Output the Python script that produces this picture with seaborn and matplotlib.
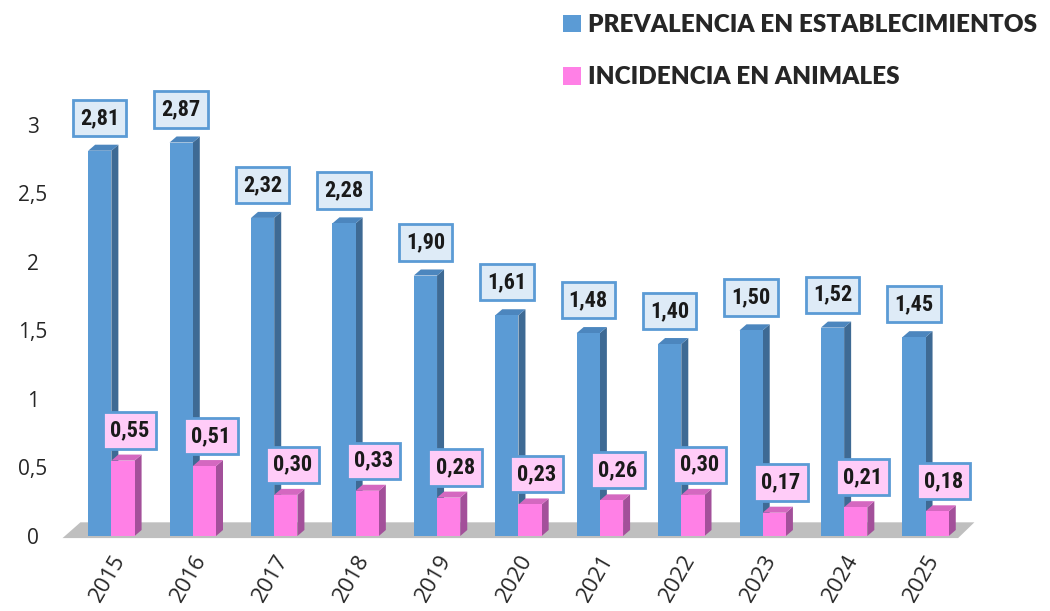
import matplotlib
matplotlib.use("Agg")
import matplotlib.pyplot as plt
import seaborn as sns
import pandas as pd
from matplotlib.patches import Polygon
from matplotlib import font_manager as fm

years = ["2015", "2016", "2017", "2018", "2019", "2020", "2021", "2022", "2023", "2024", "2025"]
prevalencia = [2.81, 2.87, 2.32, 2.28, 1.90, 1.61, 1.48, 1.40, 1.50, 1.52, 1.45]
incidencia = [0.55, 0.51, 0.30, 0.33, 0.28, 0.23, 0.26, 0.30, 0.17, 0.21, 0.18]
series_names = ["PREVALENCIA EN ESTABLECIMIENTOS", "INCIDENCIA EN ANIMALES"]
yticks = [0, 0.5, 1, 1.5, 2, 2.5, 3]

front = {series_names[0]: "#5B9BD5", series_names[1]: "#FF80E6"}
side = {series_names[0]: "#3E6A94", series_names[1]: "#A3509A"}
topc = {series_names[0]: "#4C86BE", series_names[1]: "#D468C0"}
boxfc = {series_names[0]: "#DEEBF7", series_names[1]: "#FFCCF8"}

df = pd.DataFrame({
    "year": years * 2,
    "value": prevalencia + incidencia,
    "serie": [series_names[0]] * len(years) + [series_names[1]] * len(years),
})

names = sorted({f.name for f in fm.fontManager.ttflist})
narrow = None
for cand in ["Liberation Sans Narrow", "DejaVu Sans Condensed", "Roboto Condensed", "Open Sans Condensed"]:
    if cand in names:
        narrow = cand
        break

sns.set_style("white")
fig = plt.figure(figsize=(10.5, 6.11), dpi=100)
ax = fig.add_axes([0.058, 0.1227, 0.87, 0.763])

sns.barplot(data=df, x="year", y="value", hue="serie", palette=front,
            width=0.57, gap=0, ax=ax, saturation=1, edgecolor="none", linewidth=0)

ax.set_xlim(-0.62, 10.6)
ax.set_ylim(0, 3.4)

dx, dy = 0.086, 0.044
for ci, cont in enumerate(ax.containers):
    name = series_names[ci]
    z = 2 + ci
    for bar in cont:
        x0 = bar.get_x(); w = bar.get_width(); h = bar.get_height()
        bar.set_zorder(z + 0.1)
        ax.add_patch(Polygon([(x0 + w, 0), (x0 + w + dx, dy), (x0 + w + dx, h + dy), (x0 + w, h)],
                             closed=True, fc=side[name], ec="none", zorder=z))
        ax.add_patch(Polygon([(x0, h), (x0 + dx, h + dy), (x0 + w + dx, h + dy), (x0 + w, h)],
                             closed=True, fc=topc[name], ec="none", zorder=z))
        cx = x0 + w / 2 + (0.0 if ci == 0 else 0.08)
        cy = h + (0.24 if ci == 0 else 0.22)
        ax.text(cx, cy, f"{h:.2f}".replace(".", ","), ha="center", va="center",
                fontsize=16 if narrow else 13, fontweight="bold",
                family=[narrow or "DejaVu Sans", "DejaVu Sans"],
                color="#1a1a1a", zorder=10,
                bbox=dict(boxstyle="square,pad=0.32", fc=boxfc[name], ec="#5B9BD5", lw=2))

# floor
ax.add_patch(Polygon([(-0.6, -0.015), (10.4, -0.015), (10.6, 0.1), (-0.38, 0.1)],
                     closed=True, fc="#BFBFBF", ec="none", zorder=1, clip_on=False))

sns.despine(ax=ax, left=True, bottom=True)
ax.set_yticks(yticks)
ax.set_yticklabels([f"{t:g}".replace(".", ",") for t in yticks], fontsize=15, family="Open Sans")
ax.tick_params(axis="y", length=0, pad=20)
ax.tick_params(axis="x", length=0, pad=11)
ax.set_xticks(range(len(years)))
ax.set_xticklabels(years, rotation=60, ha="right", rotation_mode="anchor", fontsize=16, family="Open Sans")
for lbl in ax.get_yticklabels():
    lbl.set_horizontalalignment("center")
ax.set_xlabel("")
ax.set_ylabel("")
ax.grid(False)

sns.move_legend(ax, loc="upper left", bbox_to_anchor=(0.515, 1.013), bbox_transform=fig.transFigure,
                frameon=False, title=None, labelspacing=1.25, handlelength=0.75, handleheight=0.75,
                handletextpad=0.3, prop=dict(family="Lato", weight="heavy", size=17.5))

fig.savefig("out.png", dpi=100)
